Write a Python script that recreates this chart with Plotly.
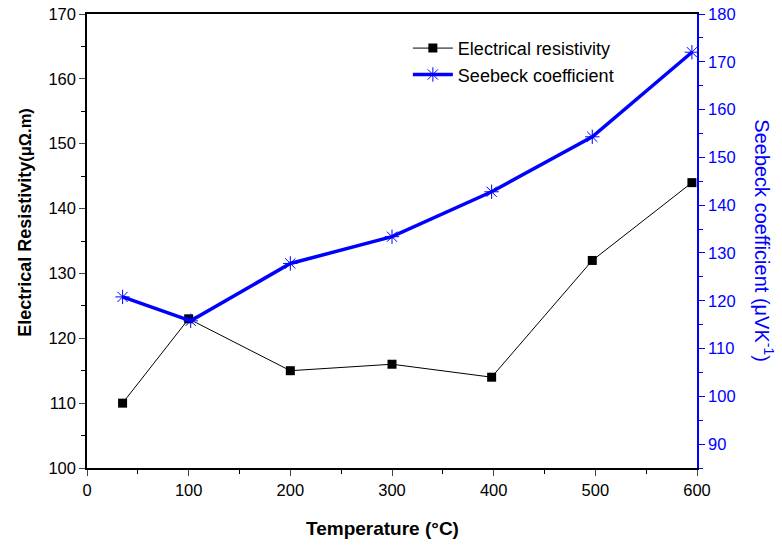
import plotly.graph_objects as go

temperature_res = [35, 100, 200, 300, 398, 497, 595]
resistivity = [110, 123, 115, 116, 114, 132, 144]
temperature_seebeck = [35, 102, 200, 300, 398, 497, 595]
seebeck = [120.8, 115.8, 127.8, 133.4, 142.8, 154.3, 172.0]

x_ticks = [0, 100, 200, 300, 400, 500, 600]
left_ticks = [100, 110, 120, 130, 140, 150, 160, 170]
right_ticks = [90, 100, 110, 120, 130, 140, 150, 160, 170, 180]

FONT = "Liberation Sans, Arial, sans-serif"
BLUE = "#0000ff"

fig = go.Figure()
fig.add_trace(go.Scatter(
    x=temperature_res, y=resistivity, name="Electrical resistivity",
    mode="lines+markers",
    line=dict(color="black", width=1),
    marker=dict(symbol="square", size=9, color="black"),
    yaxis="y"))
fig.add_trace(go.Scatter(
    x=temperature_seebeck, y=seebeck, name="Seebeck coefficient",
    mode="lines+markers",
    line=dict(color=BLUE, width=3.5),
    marker=dict(symbol="asterisk-open", size=12, color=BLUE, line=dict(color=BLUE, width=1)),
    yaxis="y2"))

fig.update_layout(
    width=782, height=546,
    margin=dict(l=87, r=85, t=14, b=78, autoexpand=False),
    paper_bgcolor="white", plot_bgcolor="white",
    font=dict(family=FONT, size=16, color="black"),
    showlegend=True,
    legend=dict(x=0.526, y=0.965, xanchor="left", yanchor="top",
                bgcolor="rgba(0,0,0,0)", font=dict(size=18, family=FONT),
                itemwidth=40, tracegroupgap=0),
    xaxis=dict(range=[0, 600], tickvals=x_ticks, ticks="outside", ticklen=6,
               minor=dict(dtick=50, ticks="outside", ticklen=4, tickcolor="black"),
               showline=True, linecolor="black", linewidth=1.5, mirror=True,
               showgrid=False, zeroline=False, automargin=False,
               ticklabeloverflow="allow",
               tickfont=dict(size=16.5)),
    yaxis=dict(range=[100, 170], tickvals=left_ticks, ticks="outside", ticklen=6,
               minor=dict(dtick=5, ticks="outside", ticklen=4, tickcolor="black"),
               showline=True, linecolor="black", linewidth=1.5,
               showgrid=False, zeroline=False, automargin=False,
               ticklabeloverflow="allow",
               tickfont=dict(size=16.5)),
    yaxis2=dict(range=[85, 180], tickvals=right_ticks, overlaying="y", side="right",
                ticks="outside", ticklen=6, tickcolor=BLUE,
                minor=dict(dtick=5, ticks="outside", ticklen=4, tickcolor=BLUE),
                showline=True, linecolor=BLUE, linewidth=1.5,
                showgrid=False, zeroline=False, automargin=False,
                ticklabeloverflow="allow",
                tickfont=dict(size=16.5, color=BLUE)),
    annotations=[
        dict(text="<b>Temperature (°C)</b>", xref="paper", yref="paper",
             x=0.485, y=-0.106, xanchor="center", yanchor="top", showarrow=False,
             font=dict(size=19, family=FONT, color="black")),
        dict(text="<b>Electrical Resistivity</b><span style='font-size:16.5px'><b>(μΩ.m)</b></span>",
             xref="paper", yref="paper",
             x=-0.1016, y=0.54, xanchor="center", yanchor="middle", textangle=-90,
             showarrow=False, font=dict(size=18, family=FONT, color="black")),
        dict(text="Seebeck coefficient (μVK<sup>-1</sup>)", xref="paper", yref="paper",
             x=1.111, y=0.5, xanchor="center", yanchor="middle", textangle=90,
             showarrow=False, font=dict(size=20, family=FONT, color=BLUE)),
    ],
)

fig.write_html("out.html",
               config={"displayModeBar": False},
               post_script="document.body.style.margin='0';document.body.style.overflow='hidden';")
